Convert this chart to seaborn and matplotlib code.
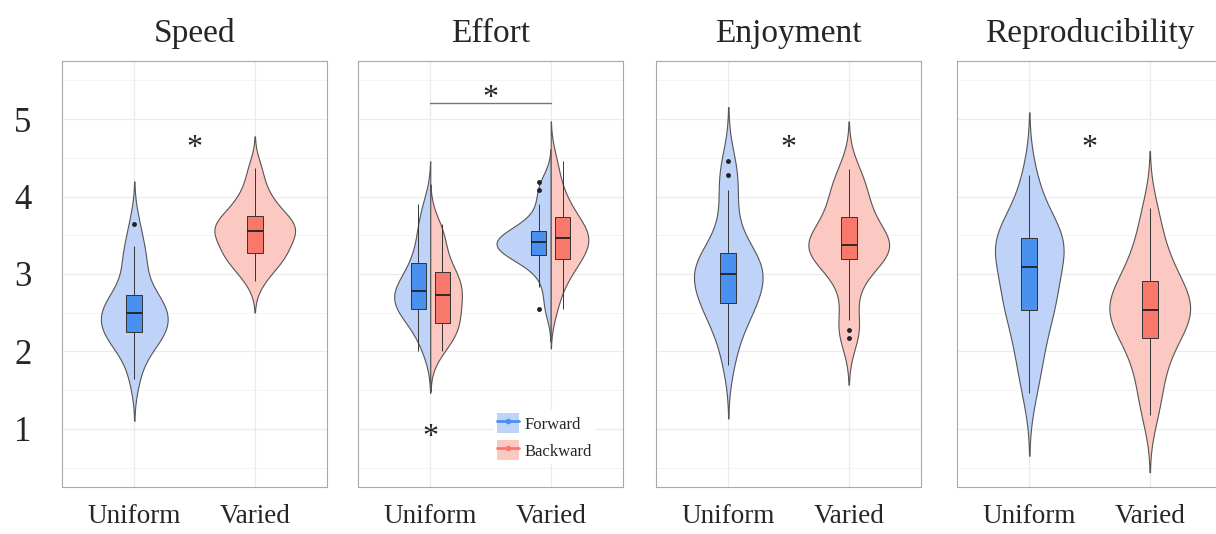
import pandas as pd
import matplotlib
matplotlib.use("Agg")
import matplotlib.pyplot as plt
import seaborn as sns
from matplotlib.patches import Patch
from matplotlib.lines import Line2D
from matplotlib.legend_handler import HandlerTuple

# ratings (one value per participant)
speed_uniform = [1.65, 1.95, 2.05, 2.15, 2.2, 2.25, 2.3, 2.35, 2.38, 2.42, 2.5,
                 2.55, 2.6, 2.65, 2.7, 2.73, 2.95, 3.1, 3.25, 3.36, 3.65]
speed_varied = [2.91, 3.05, 3.15, 3.2, 3.25, 3.27, 3.35, 3.42, 3.48, 3.52, 3.55,
                3.58, 3.62, 3.66, 3.7, 3.75, 3.82, 3.9, 4.0, 4.15, 4.37]

effort_uniform_fwd = [2.01, 2.2, 2.35, 2.45, 2.5, 2.55, 2.6, 2.65, 2.7, 2.74, 2.78,
                      2.82, 2.88, 2.95, 3.05, 3.14, 3.25, 3.4, 3.55, 3.7, 3.91]
effort_uniform_bwd = [2.0, 2.12, 2.2, 2.26, 2.32, 2.37, 2.45, 2.53, 2.6, 2.67, 2.73,
                      2.79, 2.85, 2.9, 2.96, 3.02, 3.12, 3.25, 3.4, 3.52, 3.64]
effort_varied_fwd = [2.55, 2.83, 3.05, 3.18, 3.22, 3.25, 3.3, 3.34, 3.37, 3.39, 3.41,
                     3.43, 3.45, 3.48, 3.51, 3.55, 3.65, 3.78, 3.91, 4.09, 4.19]
effort_varied_bwd = [2.55, 2.8, 2.95, 3.05, 3.13, 3.19, 3.26, 3.32, 3.37, 3.42, 3.46,
                     3.5, 3.54, 3.58, 3.64, 3.73, 3.8, 3.9, 4.02, 4.2, 4.46]

enjoy_uniform = [1.83, 2.1, 2.3, 2.42, 2.5, 2.57, 2.63, 2.7, 2.77, 2.83, 2.89,
                 2.95, 3.0, 3.05, 3.1, 3.14, 3.18, 3.22, 3.27, 3.4, 3.6,
                 3.85, 4.09, 4.28, 4.46]
enjoy_varied = [2.18, 2.28, 2.4, 2.75, 2.95, 3.08, 3.19, 3.23, 3.26, 3.29, 3.32,
                3.35, 3.37, 3.4, 3.44, 3.49, 3.55, 3.63, 3.73, 3.82, 3.92,
                4.02, 4.12, 4.24, 4.36]

repro_uniform = [1.46, 1.8, 2.0, 2.2, 2.4, 2.54, 2.62, 2.72, 2.82, 2.92, 3.09,
                 3.2, 3.28, 3.34, 3.4, 3.46, 3.52, 3.6, 3.72, 3.95, 4.28]
repro_varied = [1.18, 1.45, 1.7, 1.9, 2.05, 2.18, 2.28, 2.37, 2.43, 2.49, 2.54,
                2.6, 2.66, 2.73, 2.82, 2.91, 3.02, 3.15, 3.32, 3.55, 3.85]

conditions = ['Uniform', 'Varied']
directions = ['Forward', 'Backward']
titles = ['Speed', 'Effort', 'Enjoyment', 'Reproducibility']

blue = '#4a90ef'
red = '#f8796c'
light_blue = '#bfd2f7'
light_red = '#fcc8c2'

sns.set_style('white')
plt.rcParams['font.family'] = ['Liberation Serif', 'DejaVu Serif']

fig = plt.figure(figsize=(12.16, 5.34), dpi=100)
W, H = 1216, 534
lefts = [62, 358, 656, 957]
axes = [fig.add_axes([l / W, (534 - 487) / H, 265 / W, 426 / H]) for l in lefts]

violin_kws = dict(inner=None, density_norm='area', common_norm=True, cut=2.4,
                  bw_adjust=0.85, linewidth=0.8, linecolor='#555555', saturation=1,
                  legend=False)
box_kws = dict(linecolor='#333333', linewidth=0.7, showcaps=False, saturation=1,
               medianprops={'color': '#222222', 'linewidth': 1.3},
               flierprops={'marker': 'o', 'markersize': 2.5, 'markerfacecolor': '#222222',
                           'markeredgecolor': '#222222'},
               legend=False)


def plain_panel(ax, uni, var):
    df = pd.DataFrame({'Condition': ['Uniform'] * len(uni) + ['Varied'] * len(var),
                       'Score': uni + var})
    sns.violinplot(data=df, x='Condition', y='Score', hue='Condition', order=conditions,
                   palette={'Uniform': light_blue, 'Varied': light_red}, width=0.67,
                   ax=ax, **violin_kws)
    sns.boxplot(data=df, x='Condition', y='Score', hue='Condition', order=conditions,
                palette={'Uniform': blue, 'Varied': red}, width=0.13, ax=ax, **box_kws)


plain_panel(axes[0], speed_uniform, speed_varied)
plain_panel(axes[2], enjoy_uniform, enjoy_varied)
plain_panel(axes[3], repro_uniform, repro_varied)

# effort: split by direction
groups = [('Uniform', 'Forward', effort_uniform_fwd), ('Uniform', 'Backward', effort_uniform_bwd),
          ('Varied', 'Forward', effort_varied_fwd), ('Varied', 'Backward', effort_varied_bwd)]
effort = pd.DataFrame([(c, d, v) for c, d, vals in groups for v in vals],
                      columns=['Condition', 'Direction', 'Score'])
ax = axes[1]
sns.violinplot(data=effort, x='Condition', y='Score', hue='Direction', order=conditions,
               hue_order=directions, split=True, palette=[light_blue, light_red],
               width=0.9, ax=ax, **violin_kws)
sns.boxplot(data=effort, x='Condition', y='Score', hue='Direction', order=conditions,
            hue_order=directions, palette=[blue, red], width=0.4, gap=0.38, dodge=True,
            ax=ax, **box_kws)

for i, ax in enumerate(axes):
    ax.set_xlim(-0.6, 1.6)
    ax.set_ylim(0.25, 5.75)
    ax.set_yticks([1, 2, 3, 4, 5])
    ax.set_yticks([0.5, 1.5, 2.5, 3.5, 4.5, 5.5], minor=True)
    ax.grid(True, which='major', color='#ebebeb', linewidth=0.9)
    ax.grid(True, which='minor', axis='y', color='#f2f2f2', linewidth=0.6)
    ax.set_axisbelow(True)
    ax.set_xlabel('')
    ax.set_ylabel('')
    ax.set_title(titles[i], fontsize=24, pad=14)
    ax.tick_params(axis='x', labelsize=19.5, length=3, color='#888888', pad=9)
    ax.tick_params(axis='y', which='both', length=0)
    if i == 0:
        ax.tick_params(axis='y', which='major', labelsize=25, length=3, color='#888888', pad=19)
    else:
        ax.set_yticklabels([])
    for s in ax.spines.values():
        s.set_color('#a8a8a8')
        s.set_linewidth(0.8)

# significance marks
star = dict(ha='center', va='center', fontsize=23)
axes[0].text(0.5, 4.62, '*', **star)
axes[2].text(0.5, 4.62, '*', **star)
axes[3].text(0.5, 4.62, '*', **star)
axes[1].plot([0, 1], [5.21, 5.21], color='#777777', linewidth=1)
axes[1].text(0.5, 5.26, '*', **star)
axes[1].text(0, 0.89, '*', **star)

handles = [(Patch(facecolor=light_blue, edgecolor='none'),
            Line2D([], [], color=blue, lw=2, marker='o', markersize=3)),
           (Patch(facecolor=light_red, edgecolor='none'),
            Line2D([], [], color=red, lw=2, marker='o', markersize=3))]
axes[1].legend(handles, directions, handler_map={tuple: HandlerTuple(ndivide=1)},
               loc='lower left', bbox_to_anchor=(0.48, 0.035), fontsize=12, frameon=True,
               facecolor='white', edgecolor='none', framealpha=1, handlelength=1.3,
               handleheight=1.5, handletextpad=0.35, labelspacing=0.4, borderpad=0.2)

plt.savefig('out.png', dpi=100)
